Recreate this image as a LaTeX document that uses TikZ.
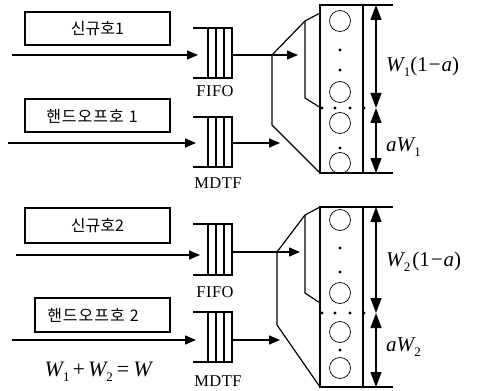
\documentclass[tikz,border=0pt]{standalone}
\usepackage{fontspec}
\setmainfont{Liberation Serif}
\newfontfamily\kr{Noto Sans CJK KR}
\usetikzlibrary{arrows.meta}
\newcommand\myqueue[4]{% name, top, bottom, out y
  \coordinate (#1tl) at (193,#2); \coordinate (#1tr) at (233,#2);
  \coordinate (#1bl) at (193,#3); \coordinate (#1br) at (233,#3);
  \draw[qline] (#1tl) -- (#1tr) (#1bl) -- (#1br);
  \foreach \xx in {208,216,224,232} \draw[qline] (\xx,#2) -- (\xx,#3);
  \coordinate (#1out) at (232,#4);}
\newcommand\mywsub[2]{\textit{W}\kern-1.5pt\raisebox{-0.22em}{\fontsize{13}{13}\selectfont #1}#2}
\begin{document}
\begin{tikzpicture}[x=1pt,y=-1pt,
  every node/.style={inner sep=0pt},
  kbox/.style={draw,line width=1.2pt,rectangle},
  ktext/.style={font=\kr\fontsize{16}{16}\selectfont},
  qline/.style={line width=1.2pt},
  inarrow/.style={line width=1.3pt,-{Triangle[length=11pt,width=9pt]}},
  outarrow/.style={line width=1.3pt,-{Triangle[length=11pt,width=9pt]}},
  wire/.style={line width=1.2pt},
  dimarrow/.style={line width=1.3pt,{Triangle[length=15pt,width=11pt]}-{Triangle[length=15pt,width=11pt]}},
  qlabel/.style={font=\fontsize{16.5}{17}\selectfont\addfontfeature{LetterSpace=3}},
  mlabel/.style={font=\fontsize{21}{21}\selectfont,anchor=west},
  srv/.style={draw,line width=1.1pt},
  circ/.style={draw,line width=0.7pt,circle,minimum size=21pt},
  sdot/.style={fill,circle,minimum size=3.2pt}
]
\useasboundingbox (0,0) rectangle (478,390);

% ================= TOP HALF =================
\draw[kbox] (25,12) rectangle (170,45);
\node[ktext] (t1) at (97.5,28.5) {신규호1};
\draw[kbox] (25,99) rectangle (170,132);
\node[ktext] (t2) at (92,116) {핸\hspace{1pt}드\hspace{1pt}오\hspace{1pt}프\hspace{1pt}호\hspace{5pt}1};

\coordinate (a1s) at (12,55);
\coordinate (a1e) at (198,55);
\draw[inarrow] (a1s) -- (a1e);
\coordinate (a2s) at (8,143);
\coordinate (a2e) at (196,143);
\draw[inarrow] (a2s) -- (a2e);

\myqueue{q1}{28}{78}{55}
\myqueue{q2}{117}{167}{143}
\node[qlabel] (f1) at (215,91) {FIFO};
\node[qlabel] (m1) at (218,183) {MDTF};

\coordinate (j1) at (272,55);
\coordinate (j1e) at (298,55);
\draw[wire] (q1out) -- (j1);
\draw[outarrow] (j1) -- (j1e);
\coordinate (m1e) at (280,143);
\draw[outarrow] (q2out) -- (m1e);

\coordinate (b1a) at (305,21);
\coordinate (b1b) at (320,13);
\coordinate (b1c) at (305,98);
\coordinate (b1d) at (321,108);
\coordinate (b1e) at (272,125);
\coordinate (b1f) at (320,173);
\draw[wire] (j1) -- (b1a) -- (b1b);
\draw[wire] (b1a) -- (b1c) -- (b1d);
\draw[wire] (j1) -- (b1e) -- (b1f);

\coordinate (s1tl) at (320,5);
\coordinate (s1br) at (363,173);
\draw[srv] (s1tl) rectangle (s1br);
\coordinate (s1tr) at (393,5);
\coordinate (s1brr) at (393,173);
\draw[srv] (363,5) -- (s1tr);
\draw[srv] (363,173) -- (s1brr);

\node[circ] (c11) at (340,21) {};
\node[circ] (c12) at (340,92) {};
\node[circ] (c13) at (340,123) {};
\node[circ] (c14) at (340,163) {};
\node[sdot] at (340,50) {};
\node[sdot] at (340,70) {};
\node[sdot] at (340,148) {};
\foreach \xx in {322,335,350,364} \node[sdot] at (\xx,108) {};

\coordinate (d1a) at (376,5);
\coordinate (d1b) at (376,108);
\coordinate (d1c) at (376,173);
\draw[dimarrow] (d1a) -- (d1b);
\draw[dimarrow] (d1b) -- (d1c);
\node[mlabel] (l11) at (386,67) {\mywsub{1}{(1\kern1pt−\kern1pt\textit{a})}};
\node[mlabel] (l12) at (386,147) {\textit{a}\mywsub{1}{}};

% ================= BOTTOM HALF =================
\draw[kbox] (25,208) rectangle (170,243);
\node[ktext] (t3) at (97.5,225.5) {신규호2};
\draw[kbox] (35,298) rectangle (170,332);
\node[ktext] (t4) at (93,315) {핸\hspace{1pt}드\hspace{1pt}오\hspace{1pt}프\hspace{1pt}호\hspace{5pt}2};

\coordinate (a3s) at (16,255);
\coordinate (a3e) at (200,255);
\draw[inarrow] (a3s) -- (a3e);
\coordinate (a4s) at (12,340);
\coordinate (a4e) at (196,340);
\draw[inarrow] (a4s) -- (a4e);

\myqueue{q3}{224}{275}{252}
\myqueue{q4}{312}{362}{340}
\node[qlabel] (f2) at (215,292) {FIFO};
\node[qlabel] (m2) at (218,381) {MDTF};

\node[font=\fontsize{22}{22}\selectfont] (sum) at (99,372) {\mywsub{1}{}\kern3pt+\kern3pt\mywsub{2}{}\kern4pt=\kern4pt\textit{W}};

\coordinate (j2) at (277,252);
\coordinate (j2e) at (300,252);
\draw[wire] (q3out) -- (j2);
\draw[outarrow] (j2) -- (j2e);
\coordinate (m2e) at (280,340);
\draw[outarrow] (q4out) -- (m2e);

\coordinate (b2a) at (305,215);
\coordinate (b2b) at (320,207);
\coordinate (b2c) at (305,293);
\coordinate (b2d) at (320,303);
\coordinate (b2e) at (277,325);
\coordinate (b2f) at (320,387);
\draw[wire] (j2) -- (b2a) -- (b2b);
\draw[wire] (b2a) -- (b2c) -- (b2d);
\draw[wire] (j2) -- (b2e) -- (b2f);

\coordinate (s2tl) at (320,207);
\coordinate (s2br) at (363,387);
\draw[srv] (s2tl) rectangle (s2br);
\coordinate (s2tr) at (393,207);
\coordinate (s2brr) at (393,387);
\draw[srv] (363,207) -- (s2tr);
\draw[srv] (363,387) -- (s2brr);

\node[circ] (c21) at (340,220) {};
\node[circ] (c22) at (340,293) {};
\node[circ] (c23) at (340,332) {};
\node[circ] (c24) at (340,368) {};
\node[sdot] at (340,248) {};
\node[sdot] at (340,272) {};
\node[sdot] at (340,350) {};
\foreach \xx in {322,335,350,364} \node[sdot] at (\xx,313) {};

\coordinate (d2a) at (376,207);
\coordinate (d2b) at (376,313);
\coordinate (d2c) at (376,387);
\draw[dimarrow] (d2a) -- (d2b);
\draw[dimarrow] (d2b) -- (d2c);
\node[mlabel] (l21) at (386,262) {\mywsub{2}{\kern2pt(1\kern1pt−\kern1pt\textit{a})}};
\node[mlabel] (l22) at (386,347) {\textit{a}\mywsub{2}{}};
\end{tikzpicture}
\end{document}
